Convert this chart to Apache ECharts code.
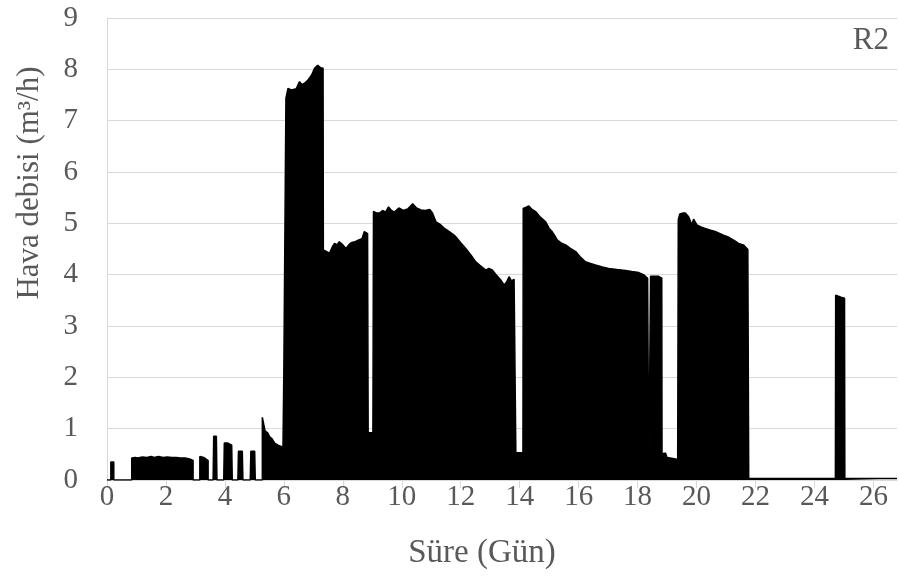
<!DOCTYPE html>
<html>
<head>
<meta charset="utf-8">
<script src="https://cdn.jsdelivr.net/npm/echarts@6/dist/echarts.min.js"></script>
<style>
html,body{margin:0;padding:0;background:#fff;}
#chart{width:899px;height:585px;}
</style>
</head>
<body>
<div id="chart"></div>
<script>
// Time (days) and air flow (m3/h)
var days = [
  0, 0.13, 0.13, 0.23, 0.23, 0.84, 0.84, 0.95, 1.05, 1.2, 1.35, 1.5, 1.6, 1.75, 1.9, 2.05, 2.2, 2.35, 2.5, 2.65, 2.8, 2.92, 2.92,
  3.15, 3.15, 3.28, 3.43, 3.43, 3.6, 3.62, 3.71, 3.73, 3.96, 3.98, 4.1, 4.23, 4.25, 4.44, 4.46, 4.59, 4.61, 4.86, 4.88, 5.01, 5.03,
  5.27, 5.27, 5.33, 5.36, 5.45, 5.52, 5.6, 5.69, 5.8, 5.97, 5.99, 6.0, 6.05,
  6.07, 6.14, 6.25, 6.42, 6.53, 6.62, 6.7, 6.8, 6.87, 6.95, 7.04, 7.15, 7.25, 7.33,
  7.34, 7.45, 7.55, 7.65, 7.72, 7.8, 7.88, 8.0, 8.11, 8.2, 8.28, 8.4, 8.56, 8.65, 8.73, 8.84,
  8.86, 9.02,
  9.04, 9.15, 9.24, 9.35, 9.45, 9.55, 9.65, 9.75, 9.9, 10.05, 10.2, 10.37, 10.5, 10.65, 10.8, 10.95, 11.04, 11.16, 11.3, 11.45,
  11.61, 11.75, 11.83, 12.0, 12.17, 12.35, 12.51, 12.65, 12.85, 12.95, 13.07, 13.2, 13.35, 13.47, 13.55, 13.64, 13.72, 13.81, 13.86,
  13.87, 14.11,
  14.12, 14.2, 14.31, 14.42, 14.54, 14.7, 14.88, 15.0, 15.1, 15.2, 15.27, 15.4, 15.56, 15.75, 15.9, 16.05, 16.23, 16.4, 16.57,
  16.8, 17.02, 17.3, 17.59, 17.8, 18.04, 18.2, 18.34, 18.37,
  18.38, 18.43, 18.44, 18.7, 18.82, 18.83, 18.87,
  18.88, 18.95, 19.0, 19.2, 19.36,
  19.38, 19.43, 19.55, 19.62, 19.73, 19.84, 19.9, 20.01, 20.15, 20.29, 20.45, 20.63, 20.8, 20.91, 21.05, 21.14, 21.3, 21.42, 21.59, 21.74, 21.76,
  21.77, 24.71, 24.72, 24.9, 25.02, 25.03, 26.8
];
var flows = [
  0, 0, 0.35, 0.35, 0, 0, 0.43, 0.44, 0.43, 0.45, 0.44, 0.46, 0.44, 0.46, 0.44, 0.45, 0.44, 0.44, 0.43, 0.43, 0.41, 0.38, 0,
  0, 0.46, 0.44, 0.38, 0, 0, 0.85, 0.85, 0, 0, 0.72, 0.72, 0.68, 0, 0, 0.56, 0.56, 0, 0, 0.56, 0.56, 0,
  0, 1.22, 1.22, 0.96, 0.92, 0.84, 0.8, 0.72, 0.68, 0.64, 0.64, 2.2, 2.2,
  7.44, 7.63, 7.6, 7.62, 7.76, 7.7, 7.73, 7.78, 7.83, 7.9, 8.02, 8.08, 8.03, 8.02,
  4.48, 4.45, 4.42, 4.55, 4.61, 4.58, 4.64, 4.58, 4.51, 4.58, 4.62, 4.64, 4.68, 4.7, 4.84, 4.8,
  0.92, 0.92,
  5.23, 5.2, 5.2, 5.25, 5.22, 5.32, 5.25, 5.22, 5.3, 5.25, 5.28, 5.38, 5.3, 5.26, 5.25, 5.27, 5.2, 5.03, 4.98, 4.9,
  4.84, 4.78, 4.74, 4.62, 4.51, 4.38, 4.25, 4.18, 4.09, 4.12, 4.09, 4.0, 3.9, 3.8, 3.85, 3.96, 3.88, 3.91, 3.88,
  0.53, 0.53,
  5.29, 5.31, 5.34, 5.27, 5.23, 5.12, 5.03, 4.9, 4.84, 4.75, 4.68, 4.62, 4.58, 4.5, 4.45, 4.35, 4.25, 4.22, 4.19,
  4.15, 4.12, 4.1, 4.08, 4.06, 4.04, 4.0, 3.93, 3.93,
  0, 0, 3.97, 3.97, 3.93, 0, 0,
  0.52, 0.52, 0.44, 0.42, 0.4,
  5.07, 5.18, 5.2, 5.2, 5.13, 4.97, 5.08, 4.97, 4.93, 4.9, 4.87, 4.84, 4.8, 4.77, 4.74, 4.71, 4.66, 4.61, 4.58, 4.49, 4.49,
  0.03, 0.03, 3.6, 3.56, 3.54, 0.03, 0.03
];
var xTickValues = [0, 2, 4, 6, 8, 10, 12, 14, 16, 18, 20, 22, 24, 26];
var yAxisTitle = 'Hava debisi (m³/h)';
var xAxisTitle = 'Süre (Gün)';
var panelLabel = 'R2';

var FONT = "'Liberation Serif', 'Times New Roman', serif";
var GREY = '#595959';
var seriesData = days.map(function (d, i) { return [d, flows[i]]; });

var chart = echarts.init(document.getElementById('chart'), null, {renderer: 'canvas'});
chart.setOption({
  animation: false,
  backgroundColor: '#ffffff',
  grid: {left: 107, right: 2, top: 18, bottom: 105, containLabel: false},
  xAxis: {
    type: 'value', min: 0, max: 26.8, interval: 2,
    axisLine: {show: true, lineStyle: {color: '#d9d9d9', width: 1}},
    axisTick: {show: true, customValues: xTickValues, length: 8, lineStyle: {color: '#d9d9d9'}},
    axisLabel: {customValues: xTickValues, color: GREY, fontFamily: FONT, fontSize: 29, margin: 3},
    splitLine: {show: false}
  },
  yAxis: {
    type: 'value', min: 0, max: 9, interval: 1,
    axisLine: {show: true, lineStyle: {color: '#d9d9d9', width: 1}},
    axisTick: {show: false},
    axisLabel: {color: GREY, fontFamily: FONT, fontSize: 29, margin: 29},
    splitLine: {show: true, lineStyle: {color: '#d9d9d9', width: 1}}
  },
  graphic: [
    {type: 'text', x: 30, y: 183, rotation: Math.PI / 2,
      style: {text: yAxisTitle, fill: GREY, font: '31px ' + FONT, align: 'center', verticalAlign: 'middle'}, z: 10},
    {type: 'text', x: 482, y: 553, style: {text: xAxisTitle, fill: GREY, font: '33px ' + FONT, align: 'center', verticalAlign: 'middle'}},
    {type: 'text', x: 889, y: 41, style: {text: panelLabel, fill: GREY, font: '31px ' + FONT, align: 'right', verticalAlign: 'middle'}}
  ],
  series: [{
    type: 'line',
    data: seriesData,
    showSymbol: false,
    symbol: 'none',
    smooth: false,
    lineStyle: {color: '#000000', width: 1.5},
    areaStyle: {color: '#000000', opacity: 1},
    z: 3
  }]
});
</script>
</body>
</html>
